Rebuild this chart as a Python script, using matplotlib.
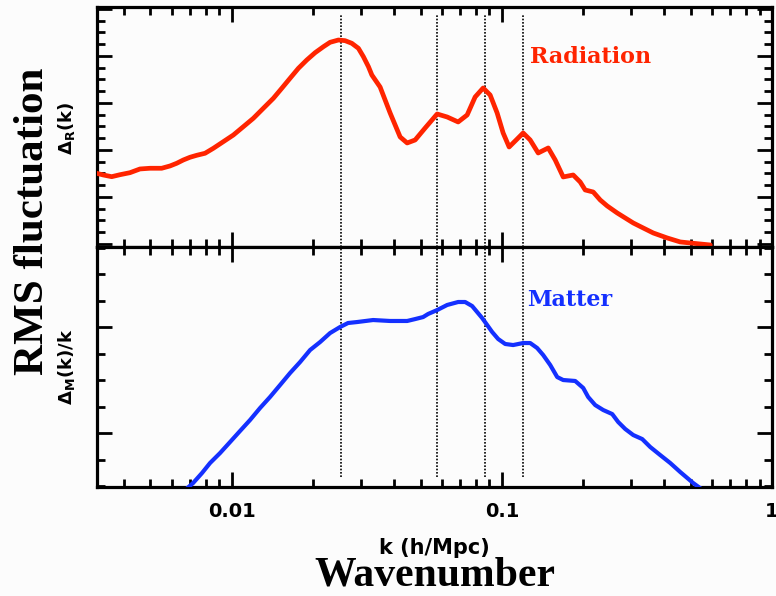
import numpy as np
import matplotlib
matplotlib.use('Agg')
import matplotlib.pyplot as plt
from matplotlib.ticker import LogLocator, MultipleLocator, NullFormatter, FixedLocator, FixedFormatter

plt.rcParams['mathtext.fontset'] = 'dejavusans'

# radiation fluctuation Delta_R(k) (arbitrary units)
k_rad = [0.00316, 0.003345, 0.003594, 0.003858, 0.0042, 0.004574, 0.004982, 0.005503,
         0.005908, 0.006255, 0.006616, 0.007006, 0.00742, 0.007964, 0.008549, 0.009309,
         0.01014, 0.01104, 0.01202, 0.01309, 0.01426, 0.01532, 0.01644, 0.01765,
         0.01896, 0.02035, 0.02185, 0.02312, 0.02482, 0.02628, 0.02783, 0.02944,
         0.03072, 0.03207, 0.03301,
         0.03542, 0.03858, 0.04202, 0.04461, 0.04775, 0.052, 0.05761, 0.06274,
         0.0689, 0.07439, 0.07963, 0.08527, 0.0905, 0.09607, 0.1011, 0.1064,
         0.113, 0.1199, 0.1273, 0.1363,
         0.1485, 0.1576, 0.1687, 0.1837, 0.195, 0.2035, 0.2179, 0.2313, 0.2455,
         0.2673, 0.2863, 0.3065, 0.3338, 0.3635, 0.4095, 0.4576, 0.4983, 0.5909]
d_rad = [1.504, 1.468, 1.432, 1.474, 1.517, 1.596, 1.611, 1.611,
         1.660, 1.717, 1.787, 1.845, 1.887, 1.930, 2.036, 2.177,
         2.319, 2.496, 2.674, 2.887, 3.100, 3.313, 3.526, 3.738,
         3.915, 4.070, 4.198, 4.291, 4.340, 4.326, 4.270, 4.164,
         3.985, 3.772, 3.596,
         3.340, 2.787, 2.277, 2.149, 2.213, 2.468, 2.766, 2.702,
         2.596, 2.745, 3.128, 3.319, 3.170, 2.787, 2.362, 2.064,
         2.213, 2.362, 2.213, 1.936,
         2.043, 1.787, 1.426, 1.468, 1.319, 1.149, 1.106, 0.936, 0.809,
         0.660, 0.553, 0.447, 0.340, 0.234, 0.128, 0.043, 0.021, -0.021]

# matter fluctuation Delta_M(k)/k (arbitrary units)
k_mat = [0.0065, 0.00719, 0.007762, 0.00831, 0.00905, 0.009856, 0.01073, 0.01169,
         0.01273, 0.01386, 0.0151, 0.01644, 0.01791, 0.0195, 0.02123, 0.02312,
         0.02518, 0.02696, 0.02911, 0.03337, 0.03858, 0.04461, 0.04775, 0.05111,
         0.05333, 0.05761, 0.06274, 0.0689, 0.07313, 0.07762, 0.08453, 0.08823,
         0.09207, 0.0969, 0.1029, 0.1101, 0.1199, 0.1273, 0.1351, 0.1422,
         0.151, 0.1603, 0.1687, 0.1869, 0.2001, 0.2087, 0.2216, 0.2373,
         0.2562, 0.2696, 0.2863, 0.3065, 0.3309, 0.3543, 0.3858, 0.4202,
         0.4576, 0.5111, 0.57]
d_mat = [0.43, 0.528, 0.623, 0.717, 0.811, 0.915, 1.019, 1.123,
         1.236, 1.340, 1.453, 1.566, 1.670, 1.783, 1.858, 1.943,
         2.000, 2.038, 2.047, 2.066, 2.057, 2.057, 2.075, 2.094,
         2.123, 2.160, 2.208, 2.236, 2.236, 2.198, 2.085, 2.019,
         1.953, 1.887, 1.840, 1.830, 1.849, 1.849, 1.802, 1.736,
         1.642, 1.528, 1.500, 1.491, 1.425, 1.340, 1.264, 1.217,
         1.179, 1.104, 1.038, 0.981, 0.943, 0.868, 0.792, 0.717,
         0.632, 0.528, 0.44]

# acoustic peak positions marked by dotted lines
k_peaks = [0.0253, 0.0574, 0.0865, 0.1196]

x_ticks = [0.01, 0.1, 1]
x_tick_labels = ['0.01', '0.1', '1']

RED = '#ff2400'
BLUE = '#1430ff'
BG = '#fcfcfc'

fig = plt.figure(figsize=(7.76, 5.96), dpi=100, facecolor=BG)
ax1 = fig.add_axes([0.1246, 0.5856, 0.8702, 0.4027], facecolor=BG)
ax2 = fig.add_axes([0.1246, 0.1829, 0.8702, 0.4027], facecolor=BG)

for ax in (ax1, ax2):
    ax.set_xscale('log')
    ax.set_xlim(10 ** -2.5, 1)
    ax.xaxis.set_major_locator(FixedLocator(x_ticks))
    ax.xaxis.set_minor_locator(LogLocator(subs=np.arange(2, 10)))
    ax.xaxis.set_minor_formatter(NullFormatter())
    ax.yaxis.set_major_locator(MultipleLocator(1))
    ax.yaxis.set_minor_locator(MultipleLocator(0.25))
    ax.yaxis.set_major_formatter(NullFormatter())
    ax.tick_params(which='both', direction='in', top=True, right=True, width=2.0)
    ax.tick_params(which='major', length=11)
    ax.tick_params(which='minor', length=6)
    for s in ax.spines.values():
        s.set_linewidth(2.3)

ax1.xaxis.set_major_formatter(NullFormatter())
ax2.xaxis.set_major_formatter(FixedFormatter(x_tick_labels))
ax2.tick_params(axis='x', which='major', pad=11)
for lab in ax2.get_xticklabels():
    lab.set_fontsize(14)
    lab.set_fontweight('bold')
    lab.set_family('DejaVu Sans')

ax1.set_ylim(-0.064, 5.043)
ax2.set_ylim(0.491, 2.755)

ax1.plot(k_rad, d_rad, color=RED, lw=3.4, solid_capstyle='round',
         solid_joinstyle='round', zorder=3)
ax2.plot(k_mat, d_mat, color=BLUE, lw=3.0, solid_capstyle='round',
         solid_joinstyle='round', zorder=3)

for kp in k_peaks:
    ax1.axvline(kp, ymin=0.0, ymax=0.97, color='black', lw=1.2, ls=(0, (1, 1)), zorder=2)
    ax2.axvline(kp, ymin=0.04, ymax=1.0, color='black', lw=1.2, ls=(0, (1, 1)), zorder=2)

ax1.text(0.127, 3.98, 'Radiation', color=RED, fontsize=16, fontweight='bold',
         family='DejaVu Serif', va='center', ha='left')
ax2.text(0.124, 2.255, 'Matter', color=BLUE, fontsize=16, fontweight='bold',
         family='DejaVu Serif', va='center', ha='left')

# axis titles
fig.text(0.043, 1 - 221 / 596, 'RMS fluctuation', rotation=90, fontsize=31,
         fontweight='bold', family='Liberation Serif', ha='center', va='center')
fig.text(0.086, 1 - 128 / 596, r'$\mathbf{\Delta_R(k)}$', rotation=90, fontsize=13,
         ha='center', va='center')
fig.text(0.086, 1 - 367 / 596, r'$\mathbf{\Delta_M(k)/k}$', rotation=90, fontsize=13,
         ha='center', va='center')
fig.text(0.56, 1 - 548 / 596, 'k (h/Mpc)', fontsize=15, fontweight='bold',
         family='DejaVu Sans', ha='center', va='center')
fig.text(0.56, 1 - 576 / 596, 'Wavenumber', fontsize=30, fontweight='bold',
         family='Liberation Serif', ha='center', va='center')

fig.savefig('out.png', dpi=100, facecolor=BG)
